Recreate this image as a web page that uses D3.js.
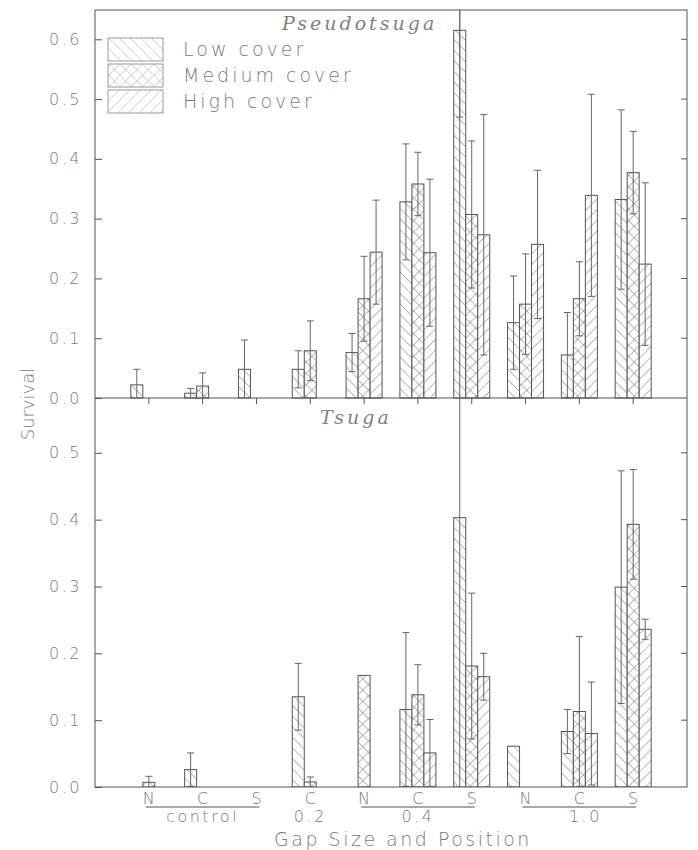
<!DOCTYPE html>
<html>
<head>
<meta charset="utf-8">
<script src="https://cdn.jsdelivr.net/npm/d3@7"></script>
<style>
  body { margin: 0; background: #fff; }
  text { font-family: "DejaVu Sans", sans-serif; font-weight: 200; fill: #7a7a7a; }
</style>
</head>
<body>
<div id="chart"></div>
<script>
// categories along the x axis
const positions = ["N", "C", "S", "C", "N", "C", "S", "N", "C", "S"];
const gapSizes = ["control", "control", "control", "0.2", "0.4", "0.4", "0.4", "1.0", "1.0", "1.0"];
const covers = ["Low cover", "Medium cover", "High cover"];

// Pseudotsuga survival (mean, SE) per cover class
const pseudoLow    = [0.022, 0.008, 0.048, 0.048, 0.076, 0.328, 0.615, 0.126, 0.072, 0.332];
const pseudoLowSE  = [0.026, 0.008, 0.049, 0.031, 0.032, 0.097, 0.145, 0.078, 0.071, 0.150];
const pseudoMed    = [0, 0.020, 0, 0.079, 0.166, 0.358, 0.307, 0.157, 0.166, 0.377];
const pseudoMedSE  = [0, 0.022, 0, 0.050, 0.071, 0.053, 0.123, 0.084, 0.062, 0.069];
const pseudoHigh   = [0, 0, 0, 0, 0.244, 0.243, 0.273, 0.257, 0.339, 0.224];
const pseudoHighSE = [0, 0, 0, 0, 0.087, 0.123, 0.201, 0.124, 0.169, 0.136];

// Tsuga survival (mean, SE) per cover class
const tsugaLow    = [0, 0.026, 0, 0.135, 0, 0.116, 0.403, 0.061, 0.083, 0.299];
const tsugaLowSE  = [0, 0.025, 0, 0.050, 0, 0.115, 0.800, 0, 0.033, 0.174];
const tsugaMed    = [0.007, 0, 0, 0.0075, 0.167, 0.138, 0.181, 0, 0.113, 0.393];
const tsugaMedSE  = [0.009, 0, 0, 0.0075, 0, 0.045, 0.109, 0, 0.112, 0.082];
const tsugaHigh   = [0, 0, 0, 0, 0, 0.051, 0.165, 0, 0.080, 0.236];
const tsugaHighSE = [0, 0, 0, 0, 0, 0.050, 0.035, 0, 0.077, 0.015];

const topTicks = [0, 0.1, 0.2, 0.3, 0.4, 0.5, 0.6];
const botTicks = [0, 0.1, 0.2, 0.3, 0.4, 0.5];

var W = 698, H = 850;
var frame = {left: 95, right: 687, top: 10, mid: 398, bottom: 787};
var ink = "#555", light = "#666";

var svg = d3.select("#chart").append("svg").attr("width", W).attr("height", H);
var defs = svg.append("defs");

function hatch(id, angles, size, color) {
    angles.forEach(function(a, i) {
        var p = defs.append("pattern")
            .attr("id", id + (angles.length > 1 ? "_" + i : ""))
            .attr("patternUnits", "userSpaceOnUse")
            .attr("width", size).attr("height", size)
            .attr("patternTransform", "rotate(" + a + ")");
        p.append("line").attr("x1", 0).attr("y1", 0).attr("x2", 0).attr("y2", size)
            .attr("stroke", color).attr("stroke-width", 0.9);
    });
}
// low "\" , medium crosshatch, high "/"
hatch("low", [-45], 7.5, light);
hatch("med", [-45, 45], 8, light);
hatch("high", [45], 7.5, light);
hatch("lowL", [-45], 7.5, "#aaa");
hatch("medL", [-45, 45], 8, "#aaa");
hatch("highL", [45], 7.5, "#aaa");

defs.append("clipPath").attr("id", "frameClip").append("rect")
    .attr("x", frame.left).attr("y", frame.top)
    .attr("width", frame.right - frame.left).attr("height", frame.bottom - frame.top);

var x = d3.scalePoint().domain(d3.range(positions.length))
    .range([frame.left, frame.right]).padding(1);
var sub = d3.scaleBand().domain([0, 1, 2]).range([-18, 18]);

var yTop = d3.scaleLinear().domain([0, 0.649]).range([frame.mid, frame.top]);
var yBot = d3.scaleLinear().domain([0, 0.582]).range([frame.bottom, frame.mid]);

function fills(k, legend) {
    var s = legend ? "L" : "";
    return [["low" + s], ["med" + s + "_0", "med" + s + "_1"], ["high" + s]][k];
}

function drawPanel(means, ses, y, ticks) {
    var g = svg.append("g").attr("clip-path", "url(#frameClip)");
    var rows = [];
    means.forEach(function(arr, k) {
        arr.forEach(function(v, i) {
            rows.push({k: k, i: i, v: v, se: ses[k][i]});
        });
    });
    var bars = rows.filter(function(d) { return d.v > 0; });

    var bg = g.selectAll(".bar").data(bars).enter().append("g").attr("class", "bar");
    bg.append("rect")
        .attr("x", function(d) { return x(d.i) + sub(d.k); })
        .attr("y", function(d) { return y(d.v); })
        .attr("width", sub.bandwidth())
        .attr("height", function(d) { return y(0) - y(d.v); })
        .attr("fill", "#fff");
    bg.each(function(d) {
        var sel = d3.select(this);
        fills(d.k, false).forEach(function(f) {
            sel.append("rect")
                .attr("x", x(d.i) + sub(d.k)).attr("y", y(d.v))
                .attr("width", sub.bandwidth()).attr("height", y(0) - y(d.v))
                .attr("fill", "url(#" + f + ")");
        });
        sel.append("rect")
            .attr("x", x(d.i) + sub(d.k)).attr("y", y(d.v))
            .attr("width", sub.bandwidth()).attr("height", y(0) - y(d.v))
            .attr("fill", "none").attr("stroke", ink).attr("stroke-width", 1);
    });

    // error bars
    var eb = g.selectAll(".err").data(bars.filter(function(d) { return d.se > 0; }))
        .enter().append("g").attr("class", "err")
        .attr("stroke", light).attr("stroke-width", 1);
    eb.each(function(d) {
        var sel = d3.select(this);
        var cx = x(d.i) + sub(d.k) + sub.bandwidth() / 2;
        var lo = Math.max(0, d.v - d.se), hi = d.v + d.se;
        sel.append("line").attr("x1", cx).attr("x2", cx).attr("y1", y(lo)).attr("y2", y(hi));
        sel.append("line").attr("x1", cx - 3.5).attr("x2", cx + 3.5).attr("y1", y(hi)).attr("y2", y(hi));
        if (lo > 0) sel.append("line").attr("x1", cx - 3.5).attr("x2", cx + 3.5).attr("y1", y(lo)).attr("y2", y(lo));
    });

    // left axis, ticks inside
    var ax = svg.append("g").attr("transform", "translate(" + frame.left + ",0)")
        .call(d3.axisLeft(y).tickValues(ticks).tickSizeInner(-7).tickSizeOuter(0)
            .tickPadding(13).tickFormat(d3.format(".1f")));
    ax.select(".domain").remove();
    ax.selectAll("line").attr("stroke", ink);
    ax.selectAll("text").attr("font-size", 16).attr("letter-spacing", "2.5px")
        .attr("fill", "#7a7a7a").attr("font-family", null);

    // right ticks
    svg.append("g").selectAll("line").data(ticks.filter(function(t) { return t > 0; }))
        .enter().append("line")
        .attr("x1", frame.right - 6).attr("x2", frame.right)
        .attr("y1", function(t) { return y(t); }).attr("y2", function(t) { return y(t); })
        .attr("stroke", ink);
}

drawPanel([pseudoLow, pseudoMed, pseudoHigh], [pseudoLowSE, pseudoMedSE, pseudoHighSE], yTop, topTicks);
drawPanel([tsugaLow, tsugaMed, tsugaHigh], [tsugaLowSE, tsugaMedSE, tsugaHighSE], yBot, botTicks);

// frame and middle axis
svg.append("rect").attr("x", frame.left).attr("y", frame.top)
    .attr("width", frame.right - frame.left).attr("height", frame.bottom - frame.top)
    .attr("fill", "none").attr("stroke", ink).attr("stroke-width", 1);
svg.append("line").attr("x1", frame.left).attr("x2", frame.right)
    .attr("y1", frame.mid).attr("y2", frame.mid).attr("stroke", ink);
svg.append("g").selectAll("line").data(d3.range(positions.length)).enter().append("line")
    .attr("x1", function(i) { return x(i); }).attr("x2", function(i) { return x(i); })
    .attr("y1", frame.mid).attr("y2", frame.mid + 6).attr("stroke", ink);

// panel titles
function title(t, px, py) {
    svg.append("text").attr("x", px).attr("y", py).text(t)
        .style("font-family", "'DejaVu Serif', serif").style("font-style", "italic")
        .style("font-weight", 200).attr("font-size", 19).attr("letter-spacing", "3px")
        .style("fill", "#808080");
}
title("Pseudotsuga", 282, 30);
title("Tsuga", 320, 424);

// legend
var legend = svg.selectAll(".legend").data(covers).enter().append("g").attr("class", "legend")
    .attr("transform", function(d, i) { return "translate(108," + (38 + i * 26) + ")"; });
legend.each(function(d, k) {
    var sel = d3.select(this);
    fills(k, true).forEach(function(f) {
        sel.append("rect").attr("width", 55).attr("height", 23).attr("fill", "url(#" + f + ")");
    });
    sel.append("rect").attr("width", 55).attr("height", 23).attr("fill", "none").attr("stroke", "#999");
});
legend.append("text").attr("x", 75).attr("y", 18).attr("font-size", 19)
    .attr("letter-spacing", "3px").text(function(d) { return d; });

// x labels
svg.append("g").selectAll("text").data(positions).enter().append("text")
    .attr("x", function(d, i) { return x(i); }).attr("y", 804)
    .attr("text-anchor", "middle").attr("font-size", 16).text(function(d) { return d; });

var groups = d3.groups(d3.range(positions.length), function(i) { return gapSizes[i]; });
groups.forEach(function(gr) {
    var idx = gr[1], x0 = x(idx[0]), x1 = x(idx[idx.length - 1]);
    if (idx.length > 1) {
        svg.append("line").attr("x1", x0 - 3).attr("x2", x1 + 3).attr("y1", 807).attr("y2", 807)
            .attr("stroke", ink);
    }
    svg.append("text").attr("x", (x0 + x1) / 2 + (gr[0] === "1.0" ? 6 : 0)).attr("y", 822)
        .attr("text-anchor", "middle").attr("font-size", 16).attr("letter-spacing", "2.5px")
        .text(gr[0]);
});

svg.append("text").attr("x", 403).attr("y", 846).attr("text-anchor", "middle")
    .attr("font-size", 19).attr("letter-spacing", "2.5px").text("Gap Size and Position");

svg.append("text").attr("transform", "translate(34,404) rotate(-90)")
    .attr("text-anchor", "middle").attr("font-size", 18).text("Survival");
</script>
</body>
</html>
